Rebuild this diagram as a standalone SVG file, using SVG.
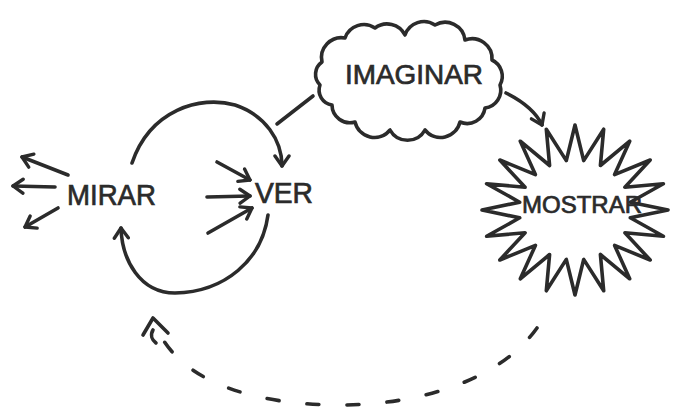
<svg xmlns="http://www.w3.org/2000/svg" width="673" height="409" viewBox="0 0 673 409">
<style>
.ln{fill:none;stroke:#2b2b2b;stroke-width:3.6;stroke-linecap:round;stroke-linejoin:round}
.sh{fill:#fff;stroke:#2b2b2b;stroke-width:3.6;stroke-linejoin:round}
.tx{font-family:"Liberation Sans","DejaVu Sans",sans-serif;fill:#2b2b2b;stroke:#2b2b2b;stroke-width:0.7}
.dash{stroke-dasharray:12 28}
</style>
<defs>
<marker id="ah" viewBox="-12 -9 14 18" refX="0" refY="0" markerWidth="14" markerHeight="18" markerUnits="userSpaceOnUse" orient="auto">
<path d="M-10,-7 L0,0 L-10,7" fill="none" stroke="#2b2b2b" stroke-width="3.4" stroke-linecap="round" stroke-linejoin="round"/>
</marker>
</defs>
<rect width="673" height="409" fill="#fff"/>
<g id="connectors">
<path class="ln" d="M132,163 C150,110 200,95 235,105 C265,115 282,140 282,166" marker-end="url(#ah)"/>
<path class="ln" d="M268,215 C262,260 225,292 175,293 C140,293 122,260 121,228" marker-end="url(#ah)"/>
<path class="ln" d="M68,175 L22,157" marker-end="url(#ah)"/>
<path class="ln" d="M55,187 L13,186" marker-end="url(#ah)"/>
<path class="ln" d="M58,208 L25,227" marker-end="url(#ah)"/>
<path class="ln" d="M217,162 L250,180" marker-end="url(#ah)"/>
<path class="ln" d="M207,197 L250,196" marker-end="url(#ah)"/>
<path class="ln" d="M208,233 L252,208" marker-end="url(#ah)"/>
<path class="ln" d="M313,96 L277,124"/>
<path class="ln" d="M506,93 C520,100 535,110 542,125" marker-end="url(#ah)"/>
<path class="ln dash" d="M537,328 C500,380 420,405 340,405 C260,405 190,385 162,338"/>
<path class="ln" d="M143,335 L153,318 L168,333 M153,330 C150,335 152,340 156,343"/>
</g>
<g id="imaginar">
<path class="sh" d="M322,62 A20,20 0 0 1 345,38 A20,20 0 0 1 375,28 A20,20 0 0 1 405,35 A20,20 0 0 1 435,25 A20,20 0 0 1 465,40 A20,20 0 0 1 492,60 A18,18 0 0 1 500,85 A18,18 0 0 1 485,108 A18,18 0 0 1 460,122 A20,20 0 0 1 425,130 A20,20 0 0 1 390,130 A20,20 0 0 1 355,122 A18,18 0 0 1 332,105 A15,15 0 0 1 320,85 A15,15 0 0 1 322,62 Z"/>
<text class="tx" x="345" y="84" font-size="28" textLength="138" lengthAdjust="spacingAndGlyphs">IMAGINAR</text>
</g>
<g id="mostrar">
<path class="sh" d="M575,125 L583.7,160.6 L603.7,129.2 L600.4,165.5 L629.7,141.2 L614.6,174.6 L650.2,160 L624.9,187.3 L663.4,183.7 L630.3,202.2 L668,210 L630.3,217.8 L663.4,236.3 L624.9,232.7 L650.2,260 L614.6,245.4 L629.7,278.8 L600.4,254.5 L603.7,290.8 L583.7,259.4 L575,295 L566.3,259.4 L546.3,290.8 L549.6,254.5 L520.3,278.8 L535.4,245.4 L499.8,260 L525.1,232.7 L486.6,236.3 L519.7,217.8 L482,210 L519.7,202.2 L486.6,183.7 L525.1,187.3 L499.8,160 L535.4,174.6 L520.3,141.2 L549.6,165.5 L546.3,129.2 L566.3,160.6 Z"/>
<text class="tx" x="522" y="213" font-size="23" textLength="120" lengthAdjust="spacingAndGlyphs">MOSTRAR</text>
</g>
<g id="mirar">
<text class="tx" x="67" y="205" font-size="29" textLength="89" lengthAdjust="spacingAndGlyphs">MIRAR</text>
</g>
<g id="ver">
<text class="tx" x="255" y="203" font-size="29" textLength="58" lengthAdjust="spacingAndGlyphs">VER</text>
</g>
</svg>
